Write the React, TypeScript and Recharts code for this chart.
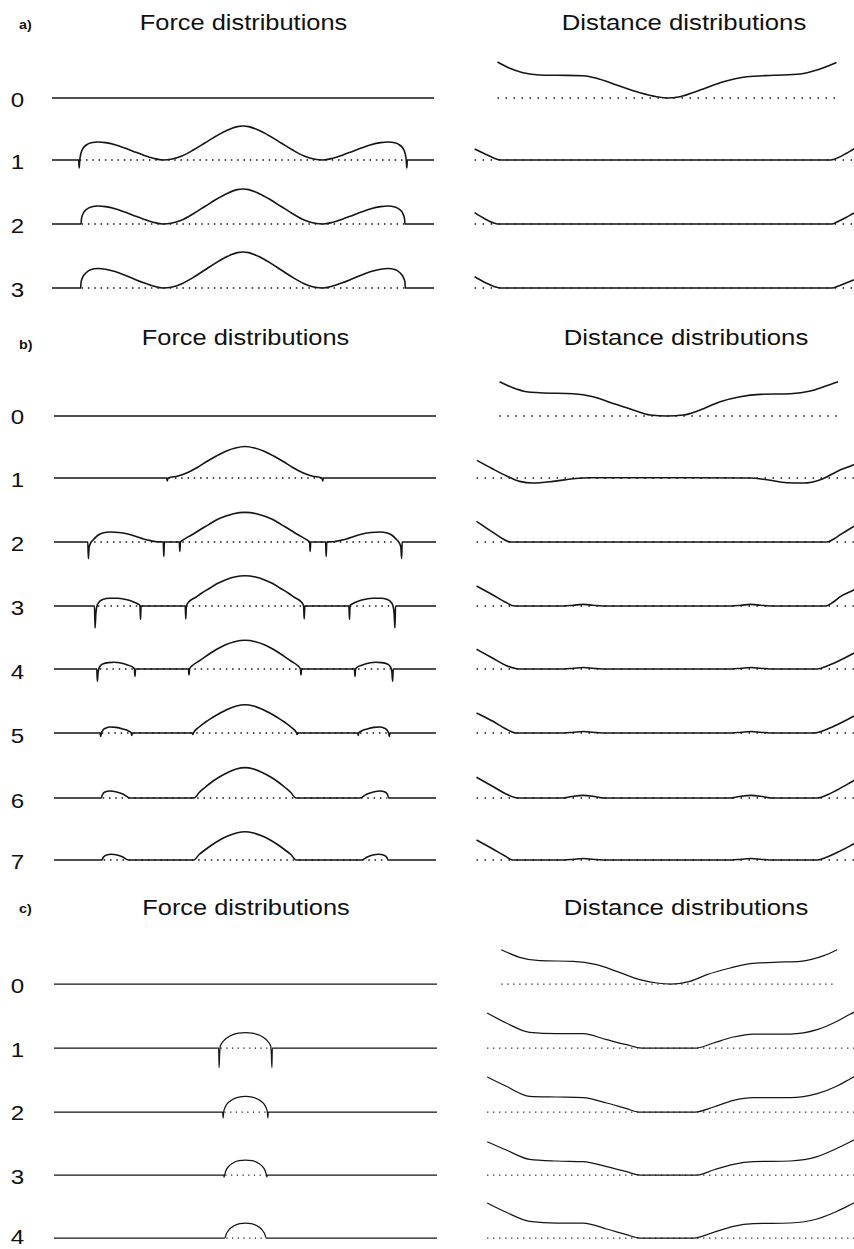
import React from 'react';
import { LineChart, Line, XAxis, YAxis } from 'recharts';

type P = [number, number];

// ---------- Panel labels / titles ----------
const panelLetters = ['a)', 'b)', 'c)'];
const forceTitle = 'Force distributions';
const distanceTitle = 'Distance distributions';
const rowLabelsA = ['0', '1', '2', '3'];
const rowLabelsB = ['0', '1', '2', '3', '4', '5', '6', '7'];
const rowLabelsC = ['0', '1', '2', '3', '4'];

// ---------- Panel a: force distributions (position -100..100, force) ----------
const forceA0: P[] = [[-100, 0], [100, 0]];
const forceA1: P[] = [[-100, 0], [-86, 0], [-85.8, -8], [-85.4, 1], [-84.8, 7], [-83.8, 11.5], [-82, 15], [-79.5, 17.2], [-76, 18], [-72, 17.4], [-67, 15.3], [-62, 12], [-57, 8.3], [-52, 4.8], [-47, 1.8], [-42, 0], [-37, 1], [-32, 4], [-26, 10], [-20, 17], [-14, 24], [-8, 30], [-3, 33.4], [0, 34], [3, 33.4], [8, 30], [14, 24], [20, 17], [26, 10], [32, 4], [37, 1], [42, 0], [47, 1.8], [52, 4.8], [57, 8.3], [62, 12], [67, 15.3], [72, 17.4], [76, 18], [79.5, 17.2], [82, 15], [83.8, 11.5], [84.8, 7], [85.4, 1], [85.8, -8], [86, 0], [100, 0]];
const forceA2: P[] = [[-100, 0], [-84.8, 0], [-84.6, 5], [-83.8, 10], [-82, 14.5], [-79.5, 17], [-76, 18], [-72, 17.4], [-67, 15.3], [-62, 12], [-57, 8.3], [-52, 4.8], [-47, 1.8], [-42, 0], [-37, 1], [-32, 4], [-26, 10.3], [-20, 17.5], [-14, 24.7], [-8, 30.8], [-3, 34.4], [0, 35], [3, 34.4], [8, 30.8], [14, 24.7], [20, 17.5], [26, 10.3], [32, 4], [37, 1], [42, 0], [47, 1.8], [52, 4.8], [57, 8.3], [62, 12], [67, 15.3], [72, 17.4], [76, 18], [79.5, 17], [82, 14.5], [83.8, 10], [84.6, 5], [84.8, 0], [100, 0]];
const forceA3: P[] = [[-100, 0], [-85, 0], [-84.8, 5.5], [-84, 10.5], [-82, 15.5], [-79.5, 18.5], [-76, 19.5], [-72, 18.8], [-67, 16.5], [-62, 13], [-57, 9], [-52, 5.2], [-47, 2], [-42, 0], [-37, 1], [-32, 4.2], [-26, 10.6], [-20, 18], [-14, 25.4], [-8, 31.7], [-3, 35.4], [0, 36], [3, 35.4], [8, 31.7], [14, 25.4], [20, 18], [26, 10.6], [32, 4.2], [37, 1], [42, 0], [47, 2], [52, 5.2], [57, 9], [62, 13], [67, 16.5], [72, 18.8], [76, 19.5], [79.5, 18.5], [82, 15.5], [84, 10.5], [84.8, 5.5], [85, 0], [100, 0]];

// ---------- Panel b: force distributions ----------
const forceB0: P[] = [[-100, 0], [100, 0]];
const forceB1: P[] = [[-100, 0], [-41, 0], [-40.7, -3], [-40.3, 0], [-35, 2], [-30, 5.5], [-25, 10.5], [-20, 16.5], [-15, 22], [-10, 26.8], [-5, 30], [0, 31.5], [5, 30], [10, 26.8], [15, 22], [20, 16.5], [25, 10.5], [30, 5.5], [35, 2], [40.3, 0], [40.7, -3], [41, 0], [100, 0]];
const forceB2: P[] = [[-100, 0], [-82.3, 0], [-82, -16.7], [-81.6, -5], [-80.5, 0], [-79.4, 2.3], [-76.8, 7], [-74, 9.2], [-70.7, 10], [-66, 9.5], [-61.9, 8.3], [-57, 5.6], [-53.2, 3], [-49, 1.2], [-46, 0.2], [-42.8, 0], [-42.5, -14.4], [-42.2, 0], [-34.4, 0], [-34.1, -9.4], [-33.8, 0], [-32.2, 2.3], [-28, 7], [-23.5, 12.3], [-19, 17.4], [-14.8, 22.3], [-10, 26], [-6, 28.3], [0, 29.6], [6, 28.3], [10, 26], [14.8, 22.3], [19, 17.4], [23.5, 12.3], [28, 7], [32.2, 2.3], [33.8, 0], [34.1, -9.4], [34.4, 0], [42.2, 0], [42.5, -14.4], [42.8, 0], [46, 0.2], [49, 1.2], [53.2, 3], [57, 5.6], [61.9, 8.3], [66, 9.5], [70.7, 10], [74, 9.2], [76.8, 7], [79.4, 2.3], [80.5, 0], [81.6, -5], [82, -16.7], [82.3, 0], [100, 0]];
const forceB3: P[] = [[-100, 0], [-78.8, 0], [-78.5, -22], [-78.1, -8], [-77.5, 0], [-76.5, 3.8], [-74.5, 6.5], [-71, 7.7], [-67, 7.7], [-63, 6.8], [-59.5, 5], [-56.5, 2.5], [-55, 0.5], [-54.7, -13.3], [-54.4, 0], [-31.3, 0], [-31, -13], [-30.7, 0], [-29.5, 4], [-26, 8.5], [-23, 12.5], [-18.5, 17.8], [-14.5, 22.5], [-10, 26.3], [-5.5, 29], [0, 30.3], [5.5, 29], [10, 26.3], [14.5, 22.5], [18.5, 17.8], [23, 12.5], [26, 8.5], [29.5, 4], [30.7, 0], [31, -13], [31.3, 0], [54.4, 0], [54.7, -13.3], [55, 0.5], [56.5, 2.5], [59.5, 5], [63, 6.8], [67, 7.7], [71, 7.7], [74.5, 6.5], [76.5, 3.8], [77.5, 0], [78.1, -8], [78.5, -22], [78.8, 0], [100, 0]];
const forceB4: P[] = [[-100, 0], [-77.6, 0], [-77.3, -12.3], [-76.9, -3], [-76.2, 2], [-74.5, 5], [-71.5, 6.4], [-68.5, 6.7], [-65, 6], [-61.5, 4], [-58.5, 1.5], [-57.9, 0], [-57.6, -7.3], [-57.3, 0], [-29.6, 0], [-29.3, -6], [-29, 0], [-27.5, 3.5], [-24, 8], [-19.5, 14], [-15, 19.5], [-10.5, 24], [-5.5, 27.3], [0, 28.7], [5.5, 27.3], [10.5, 24], [15, 19.5], [19.5, 14], [24, 8], [27.5, 3.5], [29, 0], [29.3, -6], [29.6, 0], [57.3, 0], [57.6, -7.3], [57.9, 0], [58.5, 1.5], [61.5, 4], [65, 6], [68.5, 6.7], [71.5, 6.4], [74.5, 5], [76.2, 2], [76.9, -3], [77.3, -12.3], [77.6, 0], [100, 0]];
const forceB5: P[] = [[-100, 0], [-75.9, 0], [-75.6, -3.4], [-75.2, 0], [-74.5, 2.5], [-73, 4.8], [-70.5, 6], [-67.5, 5.6], [-64, 4], [-61, 2], [-59.6, 0.3], [-59.3, -2.5], [-59, 0], [-27.6, 0], [-27.3, -1.5], [-27, 0], [-24, 6], [-21, 10.5], [-17, 15.5], [-13, 20], [-9, 23.8], [-4.5, 27], [0, 28.3], [4.5, 27], [9, 23.8], [13, 20], [17, 15.5], [21, 10.5], [24, 6], [27, 0], [27.3, -1.5], [27.6, 0], [59, 0], [59.3, -2.5], [59.6, 0.3], [61, 2], [64, 4], [67.5, 5.6], [70.5, 6], [73, 4.8], [74.5, 2.5], [75.2, 0], [75.6, -3.4], [75.9, 0], [100, 0]];
const forceB6: P[] = [[-100, 0], [-75.3, 0], [-74.6, 3.5], [-73.3, 6], [-70.7, 7], [-67.2, 6], [-63.7, 3.7], [-60.2, 0], [-26.6, 0], [-24, 5.5], [-21, 10.5], [-17, 16.5], [-13, 21.5], [-9, 25.5], [-4.5, 29], [0, 30.4], [4.5, 29], [9, 25.5], [13, 21.5], [17, 16.5], [21, 10.5], [24, 5.5], [26.6, 0], [60.2, 0], [63.7, 3.7], [67.2, 6], [70.7, 7], [73.3, 6], [74.6, 3.5], [75.3, 0], [100, 0]];
const forceB7: P[] = [[-100, 0], [-74.9, 0], [-74.2, 2.8], [-72.8, 4.8], [-70, 5.7], [-67, 5], [-64, 3], [-61, 0], [-26.8, 0], [-24, 5.5], [-21, 10], [-17, 15.5], [-13, 20.3], [-9, 24], [-4.5, 27], [0, 28.3], [4.5, 27], [9, 24], [13, 20.3], [17, 15.5], [21, 10], [24, 5.5], [26.8, 0], [61, 0], [64, 3], [67, 5], [70, 5.7], [72.8, 4.8], [74.2, 2.8], [74.9, 0], [100, 0]];

// ---------- Panel c: force distributions ----------
const forceC0: P[] = [[-100, 0], [100, 0]];
const forceC1: P[] = [[-100, 0], [-14, 0], [-13.8, -19.6], [-13.5, -6], [-13.2, 1.5], [-12.5, 4.5], [-11, 8], [-9, 11], [-6.5, 13.3], [-3.5, 14.8], [0, 15.3], [3.5, 14.8], [6.5, 13.3], [9, 11], [11, 8], [12.5, 4.5], [13.2, 1.5], [13.5, -6], [13.8, -19.6], [14, 0], [100, 0]];
const forceC2: P[] = [[-100, 0], [-11.9, 0], [-11.7, -6], [-11.4, 0], [-10.8, 4], [-9.5, 8.3], [-7, 12.2], [-4, 14.6], [0, 15.6], [4, 14.6], [7, 12.2], [9.5, 8.3], [10.8, 4], [11.4, 0], [11.7, -6], [11.9, 0], [100, 0]];
const forceC3: P[] = [[-100, 0], [-11.4, 0], [-11.2, -2], [-10.9, 0], [-10.3, 4], [-9, 8.2], [-6.5, 12], [-3.5, 14.3], [0, 15], [3.5, 14.3], [6.5, 12], [9, 8.2], [10.3, 4], [10.9, 0], [11.2, -2], [11.4, 0], [100, 0]];
const forceC4: P[] = [[-100, 0], [-10.8, 0], [-10, 4.2], [-8.5, 8.5], [-6, 12.2], [-3, 14.3], [0, 15], [3, 14.3], [6, 12.2], [8.5, 8.5], [10, 4.2], [10.8, 0], [100, 0]];

// dotted zero-force spans [from, to]
const forceBaseA: (P | null)[] = [null, [-85.5, 85.5], [-84.5, 84.5], [-84.5, 84.5]];
const forceBaseB: (P | null)[] = [null, [-40, 40], [-79, 79], [-77, 77], [-76, 76], [-75, 75], [-74.5, 74.5], [-74, 74]];
const forceBaseC: (P | null)[] = [null, [-13, 13], [-11, 11], [-10.5, 10.5], [-10, 10]];

// ---------- Distance distributions ----------
const distA0: P[] = [[-89, 36], [-82.6, 29.7], [-75.6, 25.3], [-66.8, 23], [-58, 22.7], [-44, 22.3], [-37, 19.7], [-26.5, 13], [-14.2, 5.3], [-5.4, 1.3], [0, 0], [6.8, 1.3], [17.4, 8], [29.6, 16.3], [41.9, 21.3], [56, 22.7], [70, 24], [78.8, 28], [89, 35.5]];
const distA1: P[] = [[-101, 11], [-96, 6.5], [-91, 2], [-87, 0], [86, 0], [90, 2.5], [94, 6.5], [98.5, 11.5], [101, 14]];
const distA2: P[] = [[-101, 11.3], [-96, 5.5], [-91, 1], [-89, 0], [86.7, 0], [90, 2.8], [94, 6.5], [98, 10.7], [101, 13.5]];
const distA3: P[] = [[-101, 11.3], [-95, 5], [-90, 1], [-87, 0], [86.7, 0], [90, 2], [94, 5], [98, 8], [101, 10.5]];

const distB0: P[] = [[-87.9, 34.3], [-80.9, 28.3], [-73.8, 24.3], [-66.8, 23.3], [-49.3, 22.3], [-38.8, 19.3], [-28.3, 12.6], [-17.7, 6], [-8.9, 1], [0, 0], [8.6, 1], [17.4, 6], [27.9, 14.3], [38.4, 19.3], [48.9, 21.6], [64.7, 22.3], [75.3, 25], [82.3, 29.3], [89.8, 34.3]];
const distB1: P[] = [[-99.8, 17.6], [-91.4, 9], [-84.4, 2.3], [-77.4, -3.4], [-70.4, -5], [-59.8, -3.4], [-49.3, -0.7], [-40.5, 0.3], [43.7, 0], [52.5, -1.7], [63, -4.7], [71.8, -5], [80.5, -1.7], [89.3, 6.6], [98, 13.3], [101, 16]];
const distB2: P[] = [[-100, 20.6], [-91.4, 9.6], [-86, 3], [-82.6, 0], [84, 0], [88, 3.5], [91, 7.3], [98, 15.6], [101, 19]];
const distB3: P[] = [[-100, 20], [-91.4, 11], [-85, 4], [-80, 0], [-54, 0], [-49, 0.8], [-44, 1.6], [-39, 0.8], [-34, 0], [34, 0], [39, 0.8], [44, 1.6], [49, 0.8], [54, 0], [83, 0], [87, 3.5], [91, 9.3], [98, 16], [101, 19.5]];
const distB4: P[] = [[-100, 19.7], [-91.4, 10.7], [-85, 4], [-78, 0], [-54, 0], [-49, 0.8], [-44, 1.5], [-39, 0.8], [-34, 0], [34, 0], [39, 0.8], [44, 1.5], [49, 0.8], [54, 0], [78.8, 0], [84, 3], [89.3, 7.3], [98, 15.7], [101, 19]];
const distB5: P[] = [[-100, 20], [-91.4, 11.7], [-85, 4.5], [-79, 0], [-54, 0], [-49, 0.8], [-44, 1.5], [-39, 0.8], [-34, 0], [34, 0], [39, 0.8], [44, 1.5], [49, 0.8], [54, 0], [77, 0], [83, 3], [89.3, 8.3], [98, 16.7], [101, 20]];
const distB6: P[] = [[-100, 20.7], [-91.4, 11.5], [-85, 4.5], [-78.2, 0], [-55, 0], [-50, 1.5], [-44, 2.6], [-38, 1.5], [-33, 0], [33, 0], [38, 1.5], [44, 2.6], [50, 1.5], [55, 0], [78.8, 0], [84, 3], [89.3, 8], [98, 17.3], [101, 20.5]];
const distB7: P[] = [[-100, 20], [-91.4, 11], [-85, 4], [-80.9, 0], [-54, 0], [-49, 0.8], [-44, 1.5], [-39, 0.8], [-34, 0], [34, 0], [39, 0.8], [44, 1.5], [49, 0.8], [54, 0], [78.8, 0], [84, 3], [89.3, 7.5], [98, 16], [101, 19]];

const distC0: P[] = [[-87, 34.3], [-77.4, 26.7], [-66.8, 23.3], [-49.3, 22.7], [-37, 19.3], [-26.5, 12.7], [-14.2, 4.3], [-5.4, 1], [2, 0], [12.1, 2.7], [20.9, 9.3], [33.2, 16], [43.7, 20.3], [56, 21.7], [70, 22.7], [82.3, 28.3], [89.3, 34.3]];
const distC1: P[] = [[-94.4, 35], [-84.4, 25], [-72.1, 15.7], [-58, 14.3], [-44, 14.3], [-31.7, 8.3], [-21.2, 3.3], [-13.3, 0], [15.6, 0], [24.4, 5], [34.9, 11], [45.4, 14], [64.7, 14], [78.8, 18.3], [89.3, 26.7], [96.3, 34], [101, 38.5]];
const distC2: P[] = [[-94.4, 35], [-84.4, 25.7], [-72.1, 15.7], [-58, 15], [-44, 14.3], [-31.7, 9], [-21.2, 3.3], [-14.9, 0], [14.7, 0], [24.4, 5], [34.9, 11.7], [45.4, 14.3], [64.7, 14.3], [78.8, 18.3], [89.3, 26], [96.3, 33.3], [101, 38]];
const distC3: P[] = [[-94.4, 33.3], [-84.4, 25], [-72.1, 15.7], [-58, 14], [-44, 13.3], [-31.7, 8.3], [-21.2, 3.3], [-14.2, 0], [15.6, 0], [24.4, 5], [34.9, 10.7], [45.4, 13.3], [64.7, 14], [78.8, 18.3], [89.3, 26.7], [96.3, 33.3], [101, 38]];
const distC4: P[] = [[-94.4, 35], [-84.4, 25.7], [-72.1, 16.7], [-58, 15], [-44, 15], [-31.7, 9], [-21.2, 3.3], [-14.2, 0], [14, 0], [24.4, 5.7], [34.9, 11.7], [45.4, 14.3], [64.7, 15], [78.8, 19], [89.3, 26.7], [96.3, 33.3], [101, 38]];

const distBaseA: P[] = [[-89, 89], [-101, 105], [-101, 105], [-101, 105]];
const distBaseB: P[] = [[-88, 90], [-100, 105], [-100, 105], [-100, 105], [-100, 105], [-100, 105], [-100, 105], [-100, 105]];
const distBaseC: P[] = [[-87, 89.3], [-94.4, 105], [-94.4, 105], [-94.4, 105], [-94.4, 105]];

// ---------- layout ----------
const FONT = '"Liberation Sans", Arial, Helvetica, sans-serif';
const INK = '#151515';
const H = 80;
const Y_TOP = 50;
const Y_BOT = -30;

const pts = (a: P[]) => a.map(([x, y]) => ({ x, y }));

interface Panel {
  letter: string;
  letterY: number;
  titleY: number;
  forceCx: number;
  distCx: number;
  forceLeft: number;
  forceWidth: number;
  rows: number[];
  labelDy: number[];
  labels: string[];
  force: P[][];
  forceBase: (P | null)[];
  dist: P[][];
  distBase: P[];
  sw: number;
  dash: string;
  distDash: string;
}

const panels: Panel[] = [
  {
    letter: panelLetters[0], letterY: 29, titleY: 29.5, forceCx: 243.5, distCx: 684,
    forceLeft: 52, forceWidth: 382, rows: [98, 160, 224, 288], labelDy: [8.5, 8.5, 8.5, 8.5], labels: rowLabelsA,
    force: [forceA0, forceA1, forceA2, forceA3], forceBase: forceBaseA,
    dist: [distA0, distA1, distA2, distA3], distBase: distBaseA, sw: 1.6, dash: '1.5 4.8', distDash: '1.5 6.5',
  },
  {
    letter: panelLetters[1], letterY: 349, titleY: 345, forceCx: 245.5, distCx: 686,
    forceLeft: 54, forceWidth: 382, rows: [416, 478, 542, 606, 669, 733, 798, 860], labelDy: [7.5, 8.5, 8.5, 9, 10, 10, 9.5, 9], labels: rowLabelsB,
    force: [forceB0, forceB1, forceB2, forceB3, forceB4, forceB5, forceB6, forceB7], forceBase: forceBaseB,
    dist: [distB0, distB1, distB2, distB3, distB4, distB5, distB6, distB7], distBase: distBaseB, sw: 1.6, dash: '1.5 4.8', distDash: '1.5 6.5',
  },
  {
    letter: panelLetters[2], letterY: 913, titleY: 915, forceCx: 246, distCx: 686,
    forceLeft: 54, forceWidth: 383, rows: [984, 1048, 1112, 1175, 1238], labelDy: [9, 9, 8, 9, 5.5], labels: rowLabelsC,
    force: [forceC0, forceC1, forceC2, forceC3, forceC4], forceBase: forceBaseC,
    dist: [distC0, distC1, distC2, distC3, distC4], distBase: distBaseC, sw: 1.25, dash: '1.2 4.5', distDash: '1.2 4.8',
  },
];

function Strip(props: {
  left: number; top: number; width: number; domain: [number, number];
  curve: P[]; base: P | null; sw: number; dash: string;
}) {
  const { left, top, width, domain, curve, base, sw, dash } = props;
  return (
    <div style={{ position: 'absolute', left, top, width, height: H }}>
      <LineChart width={width} height={H} margin={{ top: 0, right: 0, bottom: 0, left: 0 }}>
        <XAxis type="number" dataKey="x" domain={domain} hide allowDataOverflow />
        <YAxis type="number" domain={[Y_BOT, Y_TOP]} hide allowDataOverflow />
        {base && (
          <Line
            data={pts([[base[0], 0], [base[1], 0]])}
            dataKey="y"
            type="linear"
            stroke={INK}
            strokeWidth={sw}
            strokeDasharray={dash}
            dot={false}
            activeDot={false}
            isAnimationActive={false}
          />
        )}
        <Line
          data={pts(curve)}
          dataKey="y"
          type="monotone"
          stroke={INK}
          strokeWidth={sw}
          dot={false}
          activeDot={false}
          isAnimationActive={false}
        />
      </LineChart>
    </div>
  );
}

function Stretched(props: { x: number; y: number; sx: number; size: number; anchor?: string; bold?: boolean; children: React.ReactNode }) {
  const { x, y, sx, size, anchor, bold, children } = props;
  return (
    <text
      transform={`translate(${x},${y}) scale(${sx},1)`}
      fontSize={size}
      fontWeight={bold ? 'bold' : 'normal'}
      textAnchor={anchor || 'start'}
    >
      {children}
    </text>
  );
}

export default function App() {
  return (
    <div style={{ position: 'absolute', left: 0, top: 0, width: 854, height: 1249, overflow: 'hidden', background: '#fff' }}>
      {panels.map((p, pi) => (
        <React.Fragment key={pi}>
          {p.rows.map((baseY, ri) => (
            <React.Fragment key={ri}>
              <Strip
                left={p.forceLeft}
                top={baseY - Y_TOP}
                width={p.forceWidth}
                domain={[-100, 100]}
                curve={p.force[ri]}
                base={p.forceBase[ri]}
                sw={p.sw}
                dash={p.dash}
              />
              <Strip
                left={467}
                top={baseY - Y_TOP}
                width={400}
                domain={[-105, 105]}
                curve={p.dist[ri]}
                base={p.distBase[ri]}
                sw={p.sw}
                dash={p.distDash}
              />
            </React.Fragment>
          ))}
        </React.Fragment>
      ))}
      <svg width={854} height={1249} style={{ position: 'absolute', left: 0, top: 0, pointerEvents: 'none' }}>
        {panels.map((p, pi) => (
          <g key={pi} fontFamily={FONT} fill="#111">
            <Stretched x={19} y={p.letterY} sx={1.1} size={13} bold>{p.letter}</Stretched>
            <Stretched x={p.forceCx} y={p.titleY} sx={1.155} size={22} anchor="middle">{forceTitle}</Stretched>
            <Stretched x={p.distCx} y={p.titleY} sx={1.17} size={22} anchor="middle">{distanceTitle}</Stretched>
            {p.rows.map((baseY, ri) => (
              <Stretched key={ri} x={17.5} y={baseY + p.labelDy[ri]} sx={1.15} size={21} anchor="middle">{p.labels[ri]}</Stretched>
            ))}
          </g>
        ))}
      </svg>
    </div>
  );
}
